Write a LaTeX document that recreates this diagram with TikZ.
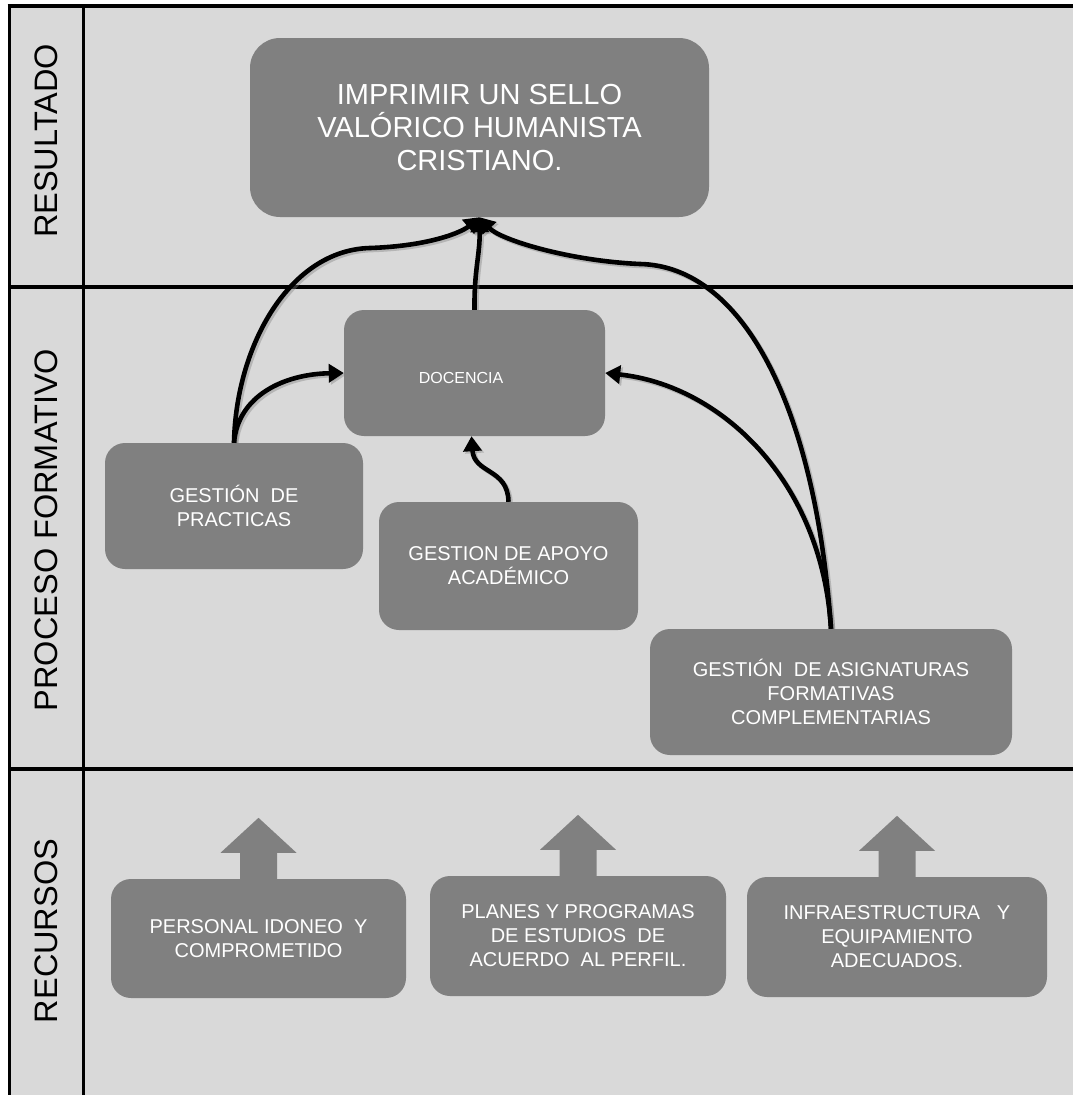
\documentclass[tikz,border=0pt]{standalone}
\usepackage{fontspec}
\setmainfont{Liberation Sans}
\usetikzlibrary{calc,arrows.meta}
\definecolor{panel}{HTML}{D9D9D9}
\definecolor{boxgray}{HTML}{808080}

% the six links between the boxes
\newcommand{\drawlinks}[1]{%
  \draw[#1] (prac.north) .. controls (236,345) and (290,250) .. (370,248)
        .. controls (430,246) and (462,232) .. (res.south);
  \draw[#1] (prac.north) .. controls (238,395) and (285,374) .. (doc.west);
  \draw[#1] (doc.north) .. controls (474,270) and (480,255) .. (res.south);
  \draw[#1] (apoyo.north) .. controls (508,468) and (474,474) .. ($(doc.south)+(-3,0)$);
  \draw[#1] (asig.north) .. controls (822,480) and (720,385) .. (doc.east);
  \draw[#1] (asig.north) .. controls (815,400) and (740,266) .. (640,264)
        .. controls (570,261) and (500,240) .. (res.south);
}

\begin{document}
\begin{tikzpicture}[x=1pt,y=-1pt,
  box/.style={fill=boxgray, text=white, rounded corners=20pt, inner sep=0pt,
              align=center, font=\fontsize{20}{24}\selectfont},
  lanelabel/.style={rotate=90, font=\fontsize{32.5}{36}\selectfont, text=black},
  link/.style={line width=4.6pt, -{Triangle[length=15pt,width=18pt]}},
  linkshade/.style={link, draw=black!50, opacity=.4},
  divider/.style={line width=3.5pt, draw=black}]
\useasboundingbox (0,0) rectangle (1073,1095);
\fill[white] (0,0) rectangle (1073,1095);
\fill[panel] (9,6) rectangle (1073,1095);

% grid of the three lanes
\draw[divider] (7.5,6) -- (1073,6);
\draw[line width=3pt] (9,6) -- (9,1095);
\draw[line width=3pt] (83.5,6) -- (83.5,1095);
\draw[divider] (9,287) -- (1073,287);
\draw[divider] (9,769) -- (1073,769);

% lane titles
\node[lanelabel] (l1) at (46,141) {RESULTADO};
\node[lanelabel] (l2) at (46,530) {PROCESO FORMATIVO};
\node[lanelabel] (l3) at (46,931) {RECURSOS};

% result
\node[box, rounded corners=30pt, minimum width=459pt, minimum height=179pt,
      font=\fontsize{29}{33}\selectfont] (res) at (479.5,127.5)
  {IMPRIMIR UN SELLO\\VALÓRICO HUMANISTA\\CRISTIANO.};

% formative process
\node[box, minimum width=261pt, minimum height=126pt] (doc) at (474.5,373) {};
\node[text=white, font=\fontsize{16}{20}\selectfont] (doctext) at (461,378) {DOCENCIA};
\node[box, minimum width=258pt, minimum height=126pt] (prac) at (234,506)
  {GESTIÓN\ \ DE\\PRACTICAS};
\node[box, minimum width=259pt, minimum height=128pt] (apoyo) at (508.5,566)
  {GESTION DE APOYO\\ACADÉMICO};
\node[box, minimum width=362pt, minimum height=126pt] (asig) at (831,692)
  {GESTIÓN\ \ DE ASIGNATURAS\\FORMATIVAS\\COMPLEMENTARIAS};

% resources
\node[box, minimum width=295pt, minimum height=119pt] (pers) at (258.5,938.5)
  {PERSONAL IDONEO\ \ Y\\COMPROMETIDO};
\node[box, minimum width=296pt, minimum height=120pt] (plan) at (578,936)
  {PLANES Y PROGRAMAS\\DE ESTUDIOS\ \ DE\\ACUERDO\ \ AL PERFIL.};
\node[box, minimum width=300pt, minimum height=120pt] (infra) at (897,937)
  {INFRAESTRUCTURA\ \ \ Y\\EQUIPAMIENTO\\ADECUADOS.};

% upward block arrows on the resources
\foreach \n in {pers,plan,infra}
  \fill[boxgray] ($(\n.north)+(-18.5,1)$) -- ($(\n.north)+(-18.5,-26)$)
    -- ($(\n.north)+(-38,-26)$) -- ($(\n.north)+(0,-61)$)
    -- ($(\n.north)+(38,-26)$) -- ($(\n.north)+(18.5,-26)$)
    -- ($(\n.north)+(18.5,1)$) -- cycle;

% links with a soft shade
\begin{scope}[transform canvas={shift={(2pt,-2pt)}}]
  \drawlinks{linkshade}
\end{scope}
\drawlinks{link}
\end{tikzpicture}
\end{document}
